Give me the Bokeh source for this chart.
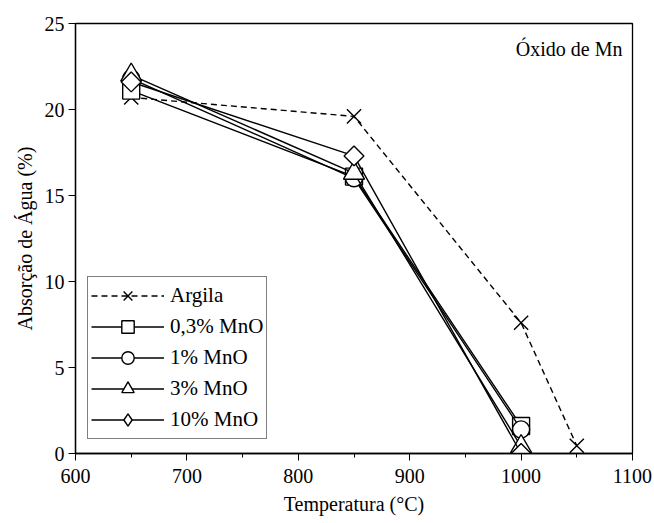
import numpy as np
from bokeh.plotting import figure
from bokeh.models import Legend, LegendItem, Label, Range1d, FixedTicker
from bokeh.embed import file_html
from bokeh.resources import INLINE

# Data
temps = [650, 850, 1000]
argila_temps = [650, 850, 1000, 1050]
argila = [20.7, 19.6, 7.6, 0.45]
mno_03 = [21.1, 16.1, 1.6]
mno_1 = [21.8, 16.0, 1.4]
mno_3 = [22.0, 16.3, 0.4]
mno_10 = [21.6, 17.3, 0.0]
labels = ["Argila", "0,3% MnO", "1% MnO", "3% MnO", "10% MnO"]
x_ticks = [600, 700, 800, 900, 1000, 1100]
x_minor = [650, 750, 850, 950, 1050]
y_ticks = [0, 5, 10, 15, 20, 25]

FONT = "Liberation Serif"

p = figure(frame_width=557, frame_height=430, output_backend="svg", toolbar_location=None,
           x_range=Range1d(600, 1100), y_range=Range1d(0, 25),
           min_border_left=75, min_border_right=20, min_border_top=23, min_border_bottom=68)
p.background_fill_color = "white"
p.border_fill_color = "white"
p.outline_line_color = "black"
p.outline_line_width = 1.3
p.xgrid.visible = False
p.ygrid.visible = False

for ax in (p.xaxis[0], p.yaxis[0]):
    ax.axis_line_color = "black"
    ax.axis_line_width = 1.3
    ax.major_tick_line_color = "black"
    ax.minor_tick_line_color = "black"
    ax.major_tick_out = 7
    ax.major_tick_in = 0
    ax.minor_tick_out = 4
    ax.minor_tick_in = 0
    ax.major_label_text_font = FONT
    ax.major_label_text_font_size = "20px"
    ax.major_label_text_color = "black"
    ax.axis_label_text_font = FONT
    ax.axis_label_text_font_size = "20px"
    ax.axis_label_text_font_style = "normal"
    ax.axis_label_text_color = "black"

p.xaxis.ticker = FixedTicker(ticks=x_ticks, minor_ticks=x_minor)
p.yaxis.ticker = FixedTicker(ticks=y_ticks, minor_ticks=[])
p.xaxis.axis_label = "Temperatura (°C)"
p.yaxis.axis_label = "Absorção de Água (%)"
p.xaxis.major_label_standoff = 8
p.xaxis.axis_label_standoff = 7
p.yaxis.major_label_standoff = 4
p.yaxis.axis_label_standoff = 6

lw = 1.4
items = []

l0 = p.line(argila_temps, argila, line_color="black", line_width=lw, line_dash="6 4")
s0 = p.scatter(argila_temps, argila, marker="x", size=20, line_color="black", line_width=1.4)
items.append(LegendItem(label=labels[0], renderers=[l0, s0]))

series = [mno_03, mno_1, mno_3]
markers = [("square", 17), ("circle", 17), ("triangle", 21)]
for lab, ys, (m, sz) in zip(labels[1:4], series, markers):
    l = p.line(temps, ys, line_color="black", line_width=lw)
    s = p.scatter(temps, ys, marker=m, size=sz, fill_color="white",
                  line_color="black", line_width=1.4)
    items.append(LegendItem(label=lab, renderers=[l, s]))

# 10% MnO: rotated squares (diamonds)
l4 = p.line(temps, mno_10, line_color="black", line_width=lw)
s4 = p.scatter(temps, mno_10, marker="square", size=14, angle=np.pi / 4, fill_color="white",
               line_color="black", line_width=1.4)
# legend sample (no data points) to show a diamond shape in the legend
s4_leg = p.scatter([np.nan], [np.nan], marker="diamond", size=20, fill_color="white",
                   line_color="black", line_width=1.4)
items.append(LegendItem(label=labels[4], renderers=[l4, s4_leg]))

legend = Legend(items=items, location=(12, 14))
legend.glyph_width = 73
legend.glyph_height = 31
legend.spacing = 0
legend.padding = 3
legend.margin = 0
legend.label_standoff = 6
legend.label_text_font = FONT
legend.label_text_font_size = "21px"
legend.label_text_color = "black"
legend.border_line_color = "black"
legend.border_line_width = 1.3
legend.background_fill_alpha = 1
p.add_layout(legend, "center")

lbl = Label(x=547, y=405, x_units="screen", y_units="screen", text="Óxido de Mn",
            text_font=FONT, text_font_size="20px", text_align="right",
            text_baseline="alphabetic", text_color="black")
p.add_layout(lbl)

open("out.html", "w").write(file_html(p, INLINE))
